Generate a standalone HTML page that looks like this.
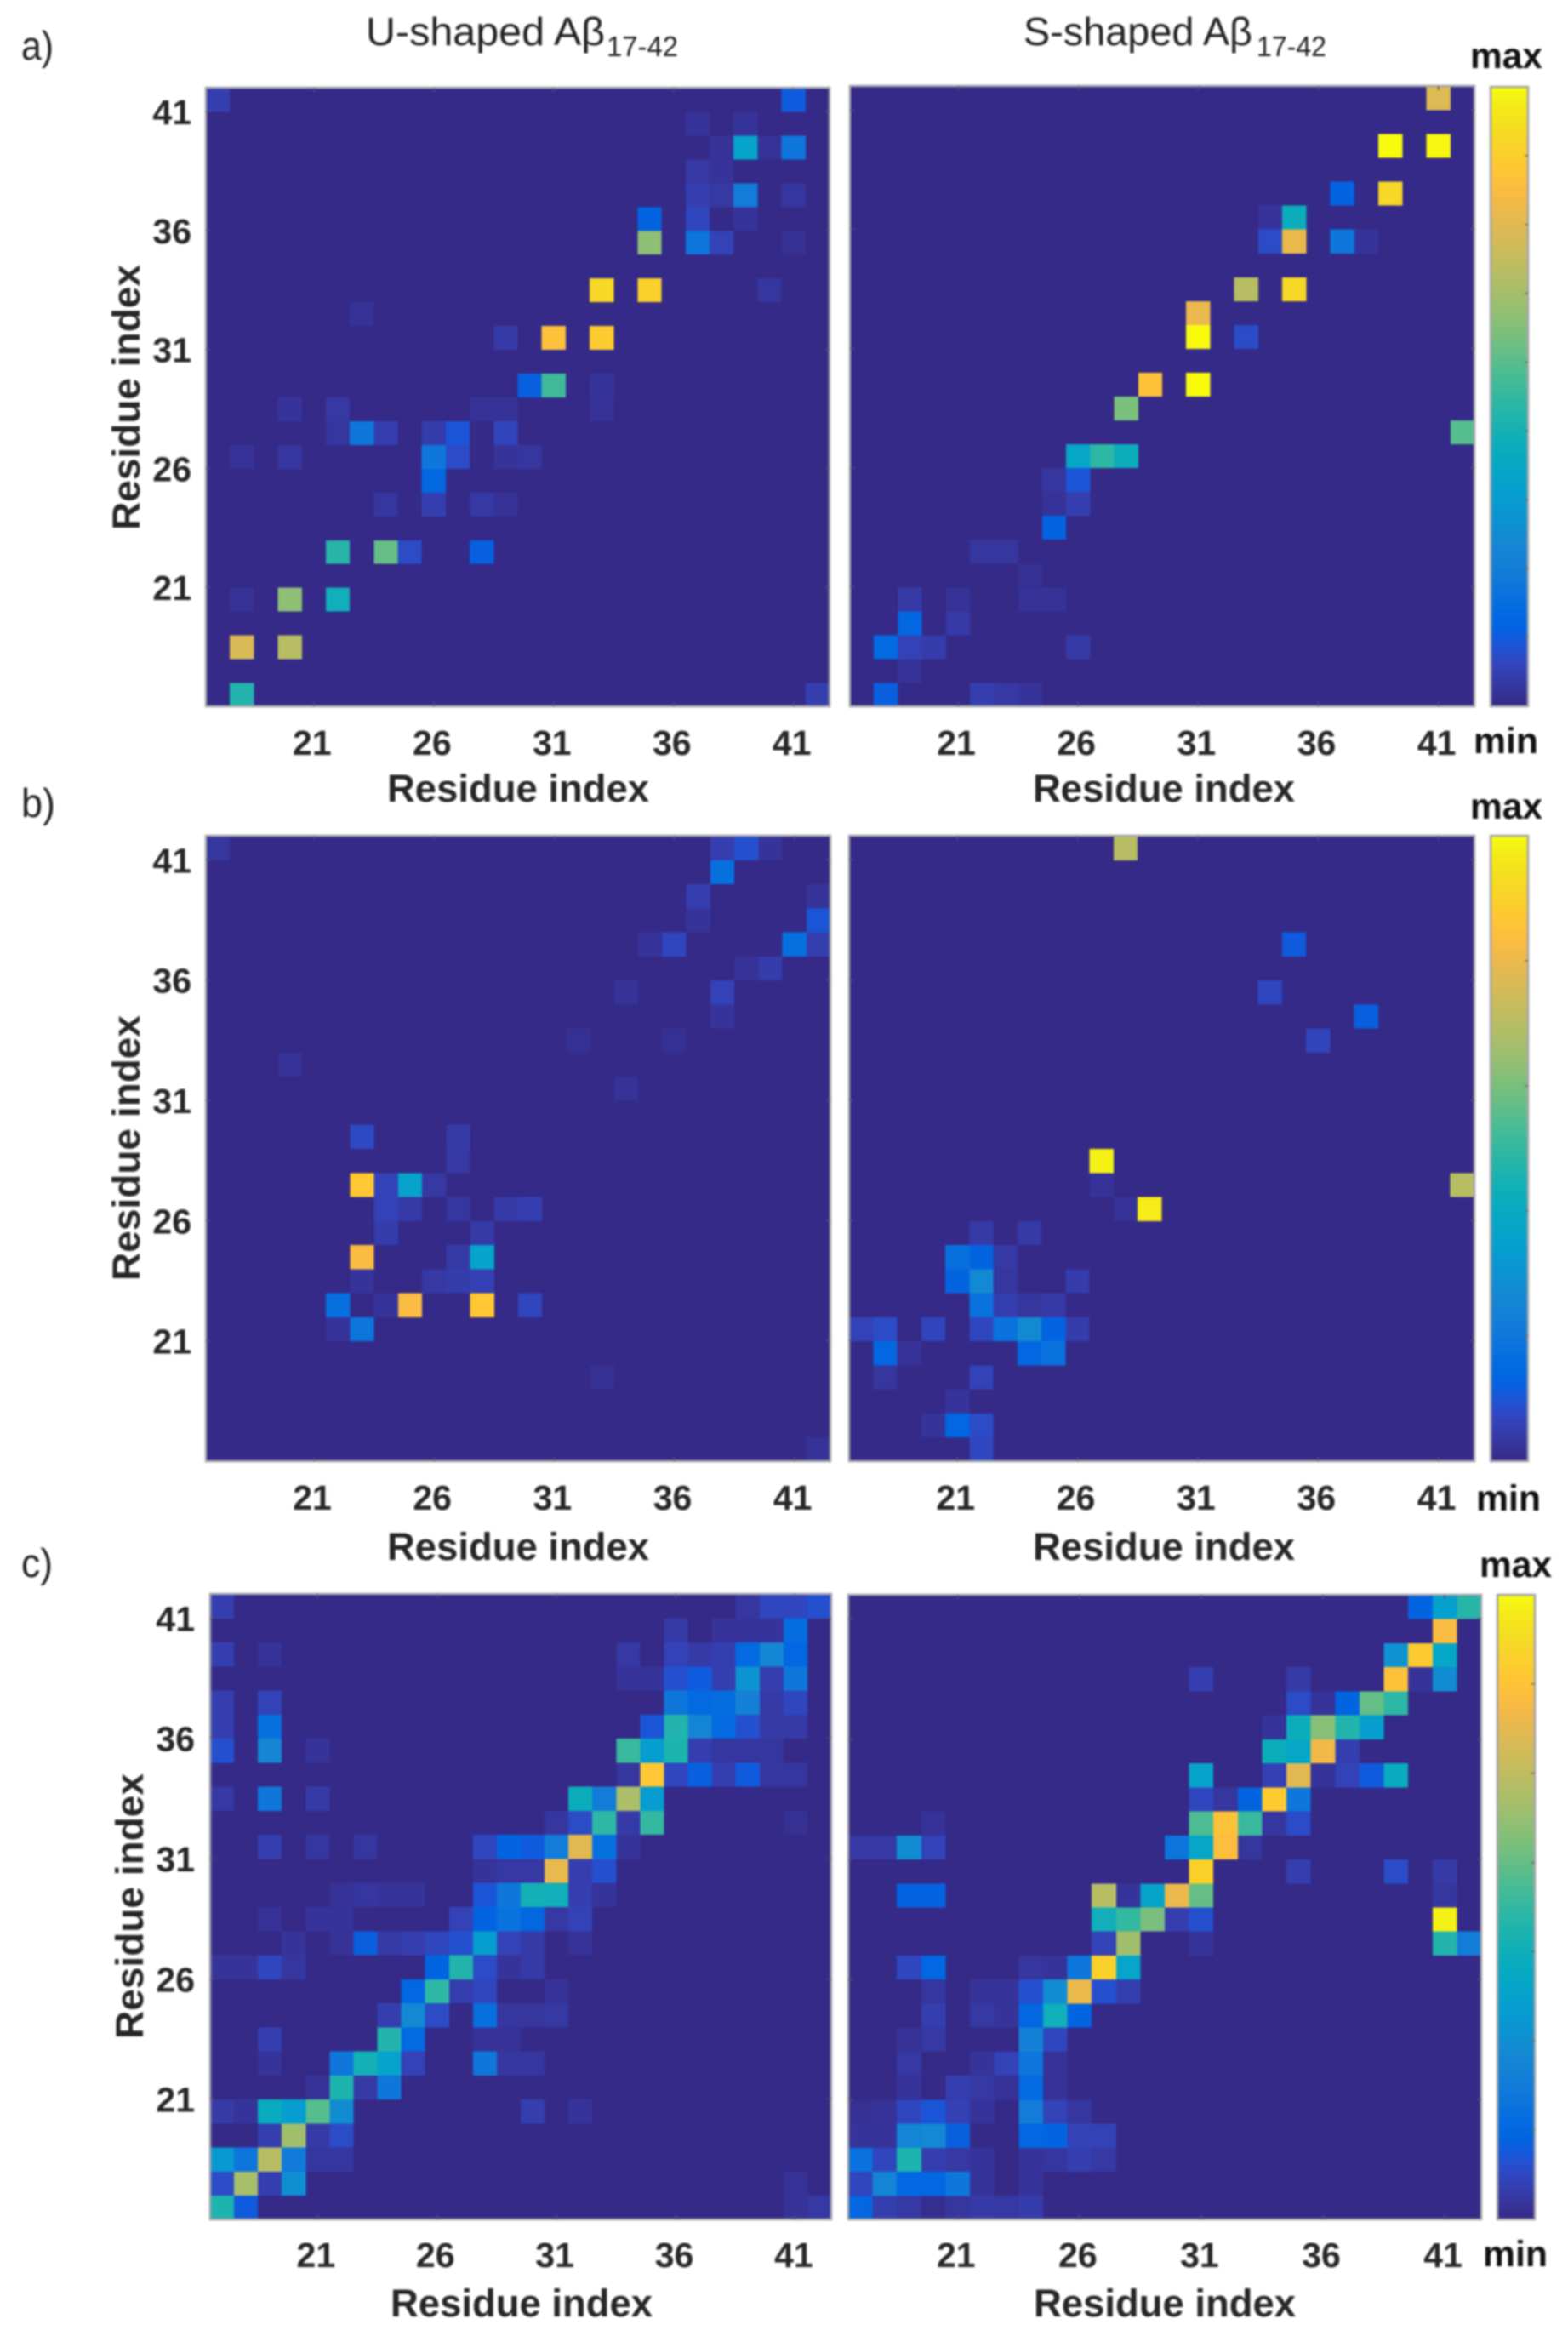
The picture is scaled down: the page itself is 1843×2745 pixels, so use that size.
<!DOCTYPE html>
<html lang="en">
<head>
<meta charset="utf-8">
<title>Residue contact maps of U-shaped and S-shaped Aβ17-42</title>
<style>
html,body{margin:0;padding:0;background:#fff;}
body{width:1843px;height:2745px;overflow:hidden;}
#figure{display:block;filter:blur(1px);}
text{font-family:"Liberation Sans",sans-serif;fill:#262626;}
.tick,.axis,.cb{font-weight:bold;}
.tick{font-size:41px;}
.axis{font-size:45px;}
.cb{font-size:43px;fill:#111;}
.title{font-size:46px;fill:#222;}
.sub{font-size:33px;fill:#222;}
.letter{font-size:47px;fill:#222;}
</style>
</head>
<body>
<svg id="figure" xmlns="http://www.w3.org/2000/svg" width="1843" height="2745" viewBox="0 0 1843 2745">
  <rect x="0" y="0" width="1843" height="2745" fill="#ffffff"/>
  <defs>
    <linearGradient id="parula-gradient" x1="0" y1="1" x2="0" y2="0"></linearGradient>
  </defs>

  <text class="letter" x="25" y="70" textLength="38" lengthAdjust="spacingAndGlyphs">a)</text>
  <text class="letter" x="25" y="960" textLength="40" lengthAdjust="spacingAndGlyphs">b)</text>
  <text class="letter" x="25" y="1853" textLength="37" lengthAdjust="spacingAndGlyphs">c)</text>

  <text class="title" x="430" y="53" textLength="281" lengthAdjust="spacingAndGlyphs">U-shaped Aβ</text>
  <text class="sub" x="713" y="66" textLength="84" lengthAdjust="spacingAndGlyphs">17-42</text>
  <text class="title" x="1203" y="53" textLength="269" lengthAdjust="spacingAndGlyphs">S-shaped Aβ</text>
  <text class="sub" x="1477" y="66" textLength="82" lengthAdjust="spacingAndGlyphs">17-42</text>

  <g id="panels"></g>

  <text class="cb" x="1728" y="80" textLength="85" lengthAdjust="spacingAndGlyphs">max</text>
  <text class="cb" x="1732" y="885" textLength="76" lengthAdjust="spacingAndGlyphs">min</text>
  <text class="cb" x="1728" y="962" textLength="85" lengthAdjust="spacingAndGlyphs">max</text>
  <text class="cb" x="1735" y="1775" textLength="76" lengthAdjust="spacingAndGlyphs">min</text>
  <text class="cb" x="1739" y="1853" textLength="85" lengthAdjust="spacingAndGlyphs">max</text>
  <text class="cb" x="1743" y="2663" textLength="76" lengthAdjust="spacingAndGlyphs">min</text>
</svg>

<script>
// Residue categories and tick labels
const residues = [17,18,19,20,21,22,23,24,25,26,27,28,29,30,31,32,33,34,35,36,37,38,39,40,41,42];
const tickLabels = [21,26,31,36,41];
const axisTitle = 'Residue index';

// Contact values: each row is [y residue, x residue, value, x residue, value, ...]; unlisted cells are 0.
const uShapedA = [
  [42, 17,.05, 41,.11],
  [41, 37,.025, 39,.025],
  [40, 38,.02, 39,.36, 40,.02, 41,.2],
  [39, 37,.035, 38,.025],
  [38, 37,.05, 38,.035, 39,.22, 41,.03],
  [37, 35,.13, 37,.07, 39,.025],
  [36, 35,.63, 37,.19, 38,.06, 41,.015],
  [34, 33,.92, 35,.9, 40,.03],
  [33, 23,.02],
  [32, 29,.04, 31,.85, 33,.88],
  [30, 30,.12, 31,.52, 33,.025],
  [29, 20,.025, 22,.035, 28,.02, 29,.02, 33,.02],
  [28, 22,.03, 23,.2, 24,.05, 26,.045, 27,.1, 29,.065],
  [27, 18,.02, 20,.03, 26,.2, 27,.08, 29,.025, 30,.03],
  [26, 26,.14],
  [25, 24,.03, 26,.05, 28,.035, 29,.02],
  [23, 22,.48, 24,.57, 25,.08, 28,.12],
  [21, 18,.02, 20,.63, 22,.43],
  [19, 18,.76, 20,.7],
  [17, 18,.47, 42,.05]
];
const sShapedA = [
  [42, 41,.77],
  [40, 39,1, 41,.99],
  [38, 37,.13, 39,.92],
  [37, 34,.025, 35,.42],
  [36, 34,.08, 35,.8, 37,.2, 38,.025],
  [34, 33,.7, 35,.92],
  [33, 31,.8],
  [32, 31,1, 33,.08],
  [30, 29,.85, 31,1],
  [29, 28,.6],
  [28, 42,.55],
  [27, 26,.38, 27,.49, 28,.42],
  [26, 25,.03, 26,.1],
  [25, 25,.02, 26,.05],
  [24, 25,.13],
  [23, 22,.03, 23,.03],
  [22, 24,.015],
  [21, 19,.04, 21,.02, 24,.02, 25,.02],
  [20, 19,.14, 21,.04],
  [19, 18,.15, 19,.06, 20,.045, 26,.04],
  [18, 19,.02],
  [17, 18,.12, 22,.05, 23,.035, 24,.025]
];
const uShapedB = [
  [42, 17,.03, 38,.05, 39,.09, 40,.025],
  [41, 38,.17],
  [40, 37,.05, 42,.025],
  [39, 37,.025, 42,.1],
  [38, 35,.025, 36,.07, 41,.17, 42,.05],
  [37, 39,.02, 40,.045],
  [36, 34,.02, 38,.06],
  [35, 38,.025],
  [34, 32,.015, 36,.015],
  [33, 20,.02],
  [32, 34,.02],
  [30, 23,.075, 27,.04],
  [29, 27,.035],
  [28, 23,.87, 24,.06, 25,.36, 26,.035],
  [27, 24,.06, 25,.04, 27,.03, 29,.04, 30,.05],
  [26, 24,.045, 28,.04],
  [25, 23,.83, 27,.04, 28,.36],
  [24, 23,.025, 26,.035, 27,.045, 28,.055],
  [23, 22,.17, 24,.025, 25,.83, 28,.87, 30,.07],
  [22, 22,.025, 23,.19],
  [20, 33,.015],
  [17, 42,.02]
];
const sShapedB = [
  [42, 28,.7],
  [38, 35,.11],
  [36, 34,.07],
  [35, 38,.12],
  [34, 36,.065],
  [29, 27,.98],
  [28, 27,.02, 42,.7],
  [27, 28,.02, 29,.97],
  [26, 22,.04, 24,.04],
  [25, 21,.17, 22,.13, 23,.035],
  [24, 21,.13, 22,.27, 23,.03, 26,.045],
  [23, 22,.18, 23,.05, 24,.03, 25,.04],
  [22, 17,.06, 18,.08, 20,.065, 22,.07, 23,.18, 24,.27, 25,.13, 26,.045],
  [21, 18,.14, 19,.02, 24,.14, 25,.18],
  [20, 18,.03, 22,.06],
  [19, 21,.025],
  [18, 20,.025, 21,.14, 22,.08],
  [17, 22,.07]
];
const uShapedC = [
  [42, 17,.05, 39,.03, 40,.07, 41,.07, 42,.09],
  [41, 36,.04, 38,.025, 39,.025, 40,.025, 41,.16],
  [40, 17,.05, 19,.02, 34,.035, 36,.06, 37,.04, 38,.05, 39,.15, 40,.26, 41,.14],
  [39, 34,.025, 35,.025, 36,.09, 37,.11, 38,.05, 39,.3, 40,.05, 41,.2],
  [38, 17,.05, 19,.06, 36,.2, 37,.15, 38,.16, 39,.24, 40,.04, 41,.07],
  [37, 17,.05, 19,.17, 35,.1, 36,.47, 37,.25, 38,.15, 39,.09, 40,.04, 41,.04],
  [36, 17,.09, 19,.26, 21,.025, 34,.51, 35,.34, 36,.46, 37,.05, 38,.03, 39,.03, 40,.03],
  [35, 34,.03, 35,.87, 36,.07, 37,.12, 38,.05, 39,.11, 40,.03, 41,.03],
  [34, 17,.035, 19,.2, 21,.04, 32,.42, 33,.22, 34,.68, 35,.33],
  [33, 31,.03, 32,.08, 33,.49, 34,.04, 35,.5, 41,.015],
  [32, 19,.05, 21,.03, 23,.03, 28,.07, 29,.13, 30,.11, 31,.22, 32,.78, 33,.17, 34,.025],
  [31, 28,.025, 29,.035, 30,.035, 31,.79, 32,.05, 33,.09],
  [30, 22,.02, 23,.03, 24,.025, 25,.025, 28,.1, 29,.2, 30,.44, 31,.43, 32,.05, 33,.025],
  [29, 19,.02, 21,.025, 22,.025, 27,.06, 28,.13, 29,.18, 30,.14, 31,.035, 32,.06],
  [28, 20,.025, 22,.02, 23,.12, 24,.04, 25,.05, 26,.07, 27,.09, 28,.34, 29,.06, 30,.04, 32,.02],
  [27, 17,.025, 18,.025, 19,.07, 20,.03, 26,.13, 27,.47, 28,.08, 29,.025, 30,.04],
  [26, 25,.14, 26,.49, 27,.05, 28,.07, 31,.02],
  [25, 24,.05, 25,.27, 26,.08, 28,.17, 29,.03, 30,.03, 31,.035],
  [24, 19,.05, 24,.47, 25,.15, 28,.02, 29,.02],
  [23, 19,.025, 22,.2, 23,.44, 24,.36, 25,.06, 28,.2, 29,.03, 30,.03],
  [22, 21,.02, 22,.46, 23,.04, 24,.2],
  [21, 17,.04, 18,.025, 19,.41, 20,.34, 21,.55, 22,.28, 30,.05, 32,.025],
  [20, 19,.05, 20,.66, 21,.04, 22,.08],
  [19, 17,.32, 18,.19, 19,.7, 20,.21, 21,.03, 22,.03],
  [18, 17,.08, 18,.67, 19,.05, 20,.29, 41,.02],
  [17, 17,.46, 18,.11, 41,.02, 42,.035]
];
const sShapedC = [
  [42, 40,.13, 41,.35, 42,.48],
  [41, 41,.83],
  [40, 39,.3, 40,.88, 41,.38],
  [39, 31,.05, 35,.04, 39,.85, 40,.025, 41,.28],
  [38, 35,.08, 36,.025, 37,.13, 38,.57, 39,.49],
  [37, 34,.025, 35,.42, 36,.62, 37,.47, 38,.34],
  [36, 34,.42, 35,.38, 36,.81, 37,.05],
  [35, 31,.36, 34,.055, 35,.78, 36,.025, 37,.06, 38,.11, 39,.41],
  [34, 31,.07, 32,.03, 33,.13, 34,.88, 35,.2],
  [33, 20,.02, 31,.54, 32,.85, 33,.51, 34,.03, 35,.08],
  [32, 17,.035, 18,.035, 19,.28, 20,.06, 30,.19, 31,.38, 32,.84, 33,.03],
  [31, 31,.9, 35,.05, 39,.08, 41,.04],
  [30, 19,.13, 20,.13, 27,.7, 28,.025, 29,.36, 30,.8, 31,.57, 41,.03],
  [29, 27,.43, 28,.5, 29,.6, 30,.05, 31,.09, 41,.98],
  [28, 27,.06, 28,.66, 31,.025, 41,.47, 42,.22],
  [27, 19,.07, 20,.14, 24,.03, 25,.025, 26,.2, 27,.9, 28,.37],
  [26, 20,.03, 22,.025, 23,.025, 24,.09, 25,.28, 26,.8, 27,.09, 28,.05],
  [25, 20,.05, 22,.035, 23,.025, 24,.14, 25,.43, 26,.13],
  [24, 19,.02, 20,.035, 24,.24, 25,.07],
  [23, 19,.035, 22,.025, 23,.06, 24,.19, 25,.02],
  [22, 19,.025, 21,.05, 22,.035, 23,.02, 24,.15, 25,.02],
  [21, 17,.015, 18,.02, 19,.07, 20,.1, 21,.055, 22,.025, 24,.22, 25,.06, 26,.03],
  [20, 17,.025, 18,.025, 19,.25, 20,.27, 21,.12, 24,.14, 25,.13, 26,.06, 27,.06],
  [19, 17,.18, 18,.07, 19,.46, 20,.05, 21,.035, 22,.025, 24,.025, 25,.03, 26,.05, 27,.035],
  [18, 17,.07, 18,.25, 19,.14, 20,.14, 21,.2, 22,.025, 24,.025],
  [17, 17,.14, 18,.05, 19,.035, 20,.01, 21,.03, 22,.04, 23,.035, 24,.045]
];

// Parula colormap
const parula = [[.2081,.1663,.5292],[.2116,.1898,.5777],[.2123,.2138,.6270],[.2081,.2386,.6771],[.1959,.2645,.7279],[.1707,.2919,.7792],[.1253,.3242,.8303],[.0591,.3598,.8683],[.0117,.3875,.8820],[.0060,.4086,.8828],[.0165,.4266,.8786],[.0329,.4430,.8720],[.0498,.4586,.8641],[.0629,.4737,.8554],[.0723,.4887,.8467],[.0779,.5040,.8384],[.0793,.5200,.8312],[.0749,.5375,.8263],[.0641,.5570,.8240],[.0488,.5772,.8228],[.0343,.5966,.8199],[.0265,.6137,.8135],[.0239,.6287,.8038],[.0231,.6418,.7913],[.0228,.6535,.7768],[.0267,.6642,.7607],[.0384,.6743,.7436],[.0590,.6838,.7254],[.0843,.6928,.7062],[.1133,.7015,.6859],[.1453,.7098,.6646],[.1801,.7177,.6424],[.2178,.7250,.6193],[.2586,.7317,.5954],[.3022,.7376,.5712],[.3482,.7424,.5473],[.3953,.7459,.5244],[.4420,.7481,.5033],[.4871,.7491,.4840],[.5300,.7491,.4661],[.5709,.7485,.4494],[.6099,.7473,.4337],[.6473,.7456,.4188],[.6834,.7435,.4044],[.7184,.7411,.3905],[.7525,.7384,.3768],[.7858,.7356,.3633],[.8185,.7327,.3498],[.8507,.7299,.3360],[.8824,.7274,.3217],[.9139,.7258,.3063],[.9450,.7261,.2886],[.9739,.7314,.2666],[.9938,.7455,.2403],[.9990,.7653,.2164],[.9955,.7861,.1967],[.9880,.8066,.1794],[.9789,.8271,.1633],[.9697,.8481,.1475],[.9626,.8705,.1309],[.9589,.8949,.1132],[.9598,.9218,.0948],[.9661,.9514,.0755],[.9763,.9831,.0538]];

function colorOf(v){
  const t = Math.max(0, Math.min(1, v)) * (parula.length - 1);
  const i = Math.min(parula.length - 2, Math.floor(t));
  const f = t - i;
  const c = [0,1,2].map(function(k){ return Math.round(255 * (parula[i][k] * (1 - f) + parula[i + 1][k] * f)); });
  return 'rgb(' + c.join(',') + ')';
}

const SVGNS = 'http://www.w3.org/2000/svg';
const root = document.getElementById('panels');

// Colorbar gradient
const gradient = document.getElementById('parula-gradient');
parula.forEach(function(c, i){
  const stop = document.createElementNS(SVGNS, 'stop');
  stop.setAttribute('offset', (i / (parula.length - 1)));
  stop.setAttribute('stop-color', colorOf(i / (parula.length - 1)));
  gradient.appendChild(stop);
});

// Expand sparse rows into a full residue-by-residue matrix
function toMatrix(rows){
  const m = residues.map(function(){ return residues.map(function(){ return 0; }); });
  rows.forEach(function(r){
    for (let i = 1; i < r.length; i += 2) {
      m[r[0] - residues[0]][r[i] - residues[0]] = r[i + 1];
    }
  });
  return m;
}

function drawLine(parent, x1, y1, x2, y2, color, width){
  const l = document.createElementNS(SVGNS, 'line');
  l.setAttribute('x1', x1); l.setAttribute('y1', y1);
  l.setAttribute('x2', x2); l.setAttribute('y2', y2);
  l.setAttribute('stroke', color); l.setAttribute('stroke-width', width);
  
  
  parent.appendChild(l);
}

function drawPanel(name, rows, box){
  const g = document.createElementNS(SVGNS, 'g');
  
  
  root.appendChild(g);

  const n = residues.length;
  const cw = (box.right - box.left) / n;
  const ch = (box.bottom - box.top) / n;
  const xCell = function(res){ return box.left + (res - residues[0]) * cw; };
  const yCell = function(res){ return box.bottom - (res - residues[0] + 1) * ch; };
  const xTick = function(res){ return box.left + (res - residues[0] + 0.5) * cw; };
  const yTick = function(res){ return box.bottom - (res - residues[0] + 1) * ch; };

  const matrix = toMatrix(rows);
  residues.forEach(function(yRes, yi){
    residues.forEach(function(xRes, xi){
      const cell = document.createElementNS(SVGNS, 'rect');
      cell.setAttribute('x', xCell(xRes));
      cell.setAttribute('y', yCell(yRes));
      cell.setAttribute('width', cw + 0.5);
      cell.setAttribute('height', ch + 0.5);
      cell.setAttribute('fill', colorOf(matrix[yi][xi]));
      cell.setAttribute('shape-rendering', 'crispEdges');
      
      
      g.appendChild(cell);
    });
  });

  const frame = document.createElementNS(SVGNS, 'rect');
  frame.setAttribute('x', box.left);
  frame.setAttribute('y', box.top);
  frame.setAttribute('width', box.right - box.left);
  frame.setAttribute('height', box.bottom - box.top);
  frame.setAttribute('fill', 'none');
  frame.setAttribute('stroke', '#a3a3a8');
  frame.setAttribute('stroke-width', 2.5);
  
  
  g.appendChild(frame);

  tickLabels.forEach(function(res){
    const tx = xTick(res), ty = yTick(res);
    drawLine(g, tx, box.bottom - 5, tx, box.bottom, '#55556a', 1.5);
    drawLine(g, tx, box.top, tx, box.top + 5, '#55556a', 1.5);
    drawLine(g, box.left, ty, box.left + 5, ty, '#55556a', 1.5);
    drawLine(g, box.right - 5, ty, box.right, ty, '#55556a', 1.5);

    const xl = document.createElementNS(SVGNS, 'text');
    xl.setAttribute('class', 'tick');
    xl.setAttribute('x', tx - 2);
    xl.setAttribute('y', box.xTickBaseline);
    xl.setAttribute('text-anchor', 'middle');
    
    
    xl.textContent = res;
    g.appendChild(xl);

    if (box.yLabelX) {
      const yl = document.createElementNS(SVGNS, 'text');
      yl.setAttribute('class', 'tick');
      yl.setAttribute('x', box.yTickRight);
      yl.setAttribute('y', ty + 15);
      yl.setAttribute('text-anchor', 'end');
      
      
      yl.textContent = res;
      g.appendChild(yl);
    }
  });

  const xt = document.createElementNS(SVGNS, 'text');
  xt.setAttribute('class', 'axis');
  xt.setAttribute('x', box.xTitleCenter);
  xt.setAttribute('y', box.xTitleBaseline);
  xt.setAttribute('text-anchor', 'middle');
  xt.setAttribute('textLength', 308);
  xt.setAttribute('lengthAdjust', 'spacingAndGlyphs');
  
  
  xt.textContent = axisTitle;
  g.appendChild(xt);

  if (box.yLabelX) {
    const yt = document.createElementNS(SVGNS, 'text');
    yt.setAttribute('class', 'axis');
    yt.setAttribute('text-anchor', 'middle');
    yt.setAttribute('textLength', 312);
    yt.setAttribute('lengthAdjust', 'spacingAndGlyphs');
    yt.setAttribute('transform', 'translate(' + box.yLabelX + ',' + box.yTitleCenter + ') rotate(-90)');
    
    
    yt.textContent = axisTitle;
    g.appendChild(yt);
  }
}

function drawColorbar(name, box){
  const g = document.createElementNS(SVGNS, 'g');
  
  
  root.appendChild(g);

  const bar = document.createElementNS(SVGNS, 'rect');
  bar.setAttribute('x', box.left);
  bar.setAttribute('y', box.top);
  bar.setAttribute('width', box.right - box.left);
  bar.setAttribute('height', box.bottom - box.top);
  bar.setAttribute('fill', 'url(#parula-gradient)');
  bar.setAttribute('stroke', '#a3a3a8');
  bar.setAttribute('stroke-width', 2.5);
  
  
  g.appendChild(bar);

  for (let i = 1; i < box.ticks; i++) {
    const y = box.bottom - (box.bottom - box.top) * i / box.ticks;
    drawLine(g, box.right - 4, y, box.right, y, '#6a6a50', 1.5);
  }
}

drawPanel('heatmap-u-shaped-a', uShapedA, {left:242, right:975, top:103, bottom:830, xTickBaseline:887, xTitleCenter:609, xTitleBaseline:942, yLabelX:164, yTitleCenter:467, yTickRight:225});
drawPanel('heatmap-s-shaped-a', sShapedA, {left:999, right:1733, top:101, bottom:830, xTickBaseline:887, xTitleCenter:1368, xTitleBaseline:942});
drawColorbar('colorbar-a', {left:1752, right:1796, top:102, bottom:830, ticks:9});

drawPanel('heatmap-u-shaped-b', uShapedB, {left:242, right:976, top:982, bottom:1717, xTickBaseline:1774, xTitleCenter:609, xTitleBaseline:1833, yLabelX:164, yTitleCenter:1349, yTickRight:225});
drawPanel('heatmap-s-shaped-b', sShapedB, {left:998, right:1733, top:982, bottom:1717, xTickBaseline:1774, xTitleCenter:1368, xTitleBaseline:1833});
drawColorbar('colorbar-b', {left:1752, right:1796, top:982, bottom:1717, ticks:5});

drawPanel('heatmap-u-shaped-c', uShapedC, {left:247, right:977, top:1873, bottom:2608, xTickBaseline:2664, xTitleCenter:613, xTitleBaseline:2722, yLabelX:168, yTitleCenter:2240, yTickRight:229});
drawPanel('heatmap-s-shaped-c', sShapedC, {left:997, right:1741, top:1874, bottom:2608, xTickBaseline:2664, xTitleCenter:1369, xTitleBaseline:2722});
drawColorbar('colorbar-c', {left:1760, right:1804, top:1874, bottom:2608, ticks:7});
</script>
</body>
</html>
